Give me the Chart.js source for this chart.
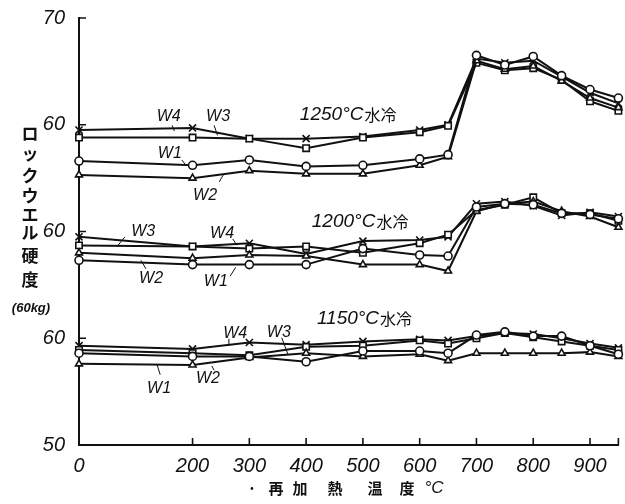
<!DOCTYPE html>
<html>
<head>
<meta charset="utf-8">
<script src="https://cdn.jsdelivr.net/npm/chart.js@4.4.1/dist/chart.umd.min.js"></script>
<style>
  body { margin: 0; background: #fff; }
  canvas { display: block; }
</style>
</head>
<body>
<canvas id="chart" width="625" height="504"></canvas>
<script>
"use strict";

// reheating temperature (°C)
const temps = [0, 200, 300, 400, 500, 600, 650, 700, 750, 800, 850, 900, 950];

// Rockwell hardness, 1250°C water quenched
const w1_1250 = [56.6, 56.2, 56.7, 56.1, 56.2, 56.8, 57.2, 66.5, 65.6, 66.4, 64.6, 63.3, 62.5];
const w2_1250 = [55.3, 55.0, 55.7, 55.4, 55.4, 56.2, 57.0, 66.0, 65.2, 65.5, 64.1, 62.5, 61.6];
const w3_1250 = [58.8, 58.8, 58.7, 57.8, 58.8, 59.3, 59.9, 65.8, 65.1, 65.3, 64.2, 62.2, 61.3];
const w4_1250 = [59.5, 59.7, 58.7, 58.7, 58.9, 59.5, 60.0, 66.2, 65.8, 66.0, 64.5, 63.0, 62.0];

// 1200°C water quenched
const w1_1200 = [57.3, 56.9, 56.9, 56.9, 58.4, 57.8, 57.7, 62.3, 62.6, 62.5, 61.7, 61.6, 61.2];
const w2_1200 = [58.0, 57.5, 57.8, 57.7, 56.9, 56.9, 56.3, 61.9, 62.6, 62.8, 61.9, 61.4, 60.4];
const w3_1200 = [58.7, 58.6, 58.4, 58.6, 58.0, 58.9, 59.7, 62.0, 62.5, 63.2, 61.7, 61.7, 61.0];
const w4_1200 = [59.5, 58.6, 58.9, 57.9, 59.1, 59.2, 59.5, 62.6, 62.8, 62.4, 61.5, 61.8, 61.4];

// 1150°C water quenched
const w1_1150 = [58.6, 58.3, 58.3, 57.8, 58.8, 58.8, 58.6, 60.3, 60.6, 60.2, 60.2, 59.3, 58.5];
const w2_1150 = [57.6, 57.5, 58.2, 58.6, 58.3, 58.5, 57.9, 58.6, 58.6, 58.6, 58.6, 58.7, 58.3];
const w3_1150 = [58.9, 58.6, 58.4, 59.2, 59.3, 59.8, 59.5, 60.0, 60.5, 60.1, 59.7, 59.3, 58.9];
const w4_1150 = [59.3, 59.0, 59.6, 59.4, 59.7, 59.9, 59.8, 60.2, 60.5, 60.4, 60.0, 59.5, 59.1];

const seriesNames = ["W1", "W2", "W3", "W4"];
const pointStyles = ["circle", "triangle", "rect", "crossRot"];

// each group is shifted up on the shared axis (group offset in axis units)
const groupNames = ["1250°C", "1200°C", "1150°C"];
const groupOffsets = [-30, -40, -50];
const groupSeries = [
  [w1_1250, w2_1250, w3_1250, w4_1250],
  [w1_1200, w2_1200, w3_1200, w4_1200],
  [w1_1150, w2_1150, w3_1150, w4_1150],
];

const xTicks = [0, 200, 300, 400, 500, 600, 700, 800, 900];
const yTickVals = [0, 10, 20, 30, 40];
const yTickLabels = ["50", "60", "60", "60", "70"];

// group captions [x temp, axis value]
const groupLabelPos = [[389, 30.9], [410, 20.9], [419, 11.8]];

// series labels: text, x, y, leader from, leader to
const seriesLabels = [
  ["W4", 158, 30.8, [164, 29.95], [168, 29.4]],
  ["W3", 245, 30.8, [238, 29.95], [244, 29.0]],
  ["W1", 160, 27.3, [181, 26.7], [187, 26.3]],
  ["W2", 222, 23.4, [247, 24.65], [254, 25.3]],
  ["W3", 113, 20.0, [81, 19.5], [67, 18.6]],
  ["W4", 252, 19.8, [271, 19.3], [278, 18.7]],
  ["W2", 127, 15.6, [118, 16.5], [109, 17.3]],
  ["W1", 241, 15.35, [266, 15.8], [276, 16.65]],
  ["W4", 275, 10.4, [264, 9.95], [264, 9.3]],
  ["W3", 352, 10.5, [357, 10.05], [368, 8.5]],
  ["W1", 141, 5.3, [143, 6.6], [137, 7.6]],
  ["W2", 227, 6.2, [238, 7.0], [234, 7.4]],
];

const ink = "#111";
const latin = "'Liberation Sans', 'DejaVu Sans', sans-serif";
const cjk = "'Noto Sans CJK JP', 'Noto Sans CJK SC', sans-serif";

const datasets = [];
groupSeries.forEach((group, g) => {
  group.forEach((vals, s) => {
    datasets.push({
      label: groupNames[g] + " " + seriesNames[s],
      data: temps.map((t, i) => ({ x: t, y: vals[i] + groupOffsets[g] })),
      borderColor: ink,
      borderWidth: 2,
      clip: false,
      pointStyle: pointStyles[s],
      pointRadius: s === 3 ? 5 : s === 2 ? 4.5 : 4,
      pointBackgroundColor: "#fff",
      pointBorderColor: ink,
      pointBorderWidth: 1.6,
      tension: 0,
    });
  });
});

const decor = {
  id: "decor",
  afterDraw(chart) {
    const { ctx, chartArea: a } = chart;
    const xs = chart.scales.x;
    const ys = chart.scales.y;
    ctx.save();
    ctx.strokeStyle = ink;
    ctx.fillStyle = ink;

    // inward tick marks
    ctx.lineWidth = 1.6;
    ctx.beginPath();
    xTicks.slice(1).concat([950]).forEach((t) => {
      const px = xs.getPixelForValue(t);
      ctx.moveTo(px, a.bottom);
      ctx.lineTo(px, a.bottom - 7);
    });
    yTickVals.slice(1).forEach((v) => {
      const py = ys.getPixelForValue(v);
      ctx.moveTo(a.left, py);
      ctx.lineTo(a.left + 7, py);
    });
    ctx.stroke();

    // group captions
    ctx.textBaseline = "middle";
    ctx.textAlign = "left";
    groupLabelPos.forEach((p, g) => {
      let px = xs.getPixelForValue(p[0]);
      const py = ys.getPixelForValue(p[1]);
      ctx.font = "italic 19px " + latin;
      const num = groupNames[g];
      ctx.fillText(num, px, py);
      px += ctx.measureText(num).width + 1;
      ctx.font = "16px " + cjk;
      ctx.fillText("水冷", px, py);
    });

    // series labels with leaders
    ctx.font = "italic 16px " + latin;
    ctx.textAlign = "center";
    ctx.lineWidth = 1;
    seriesLabels.forEach((l) => {
      ctx.fillText(l[0], xs.getPixelForValue(l[1]), ys.getPixelForValue(l[2]));
      ctx.beginPath();
      ctx.moveTo(xs.getPixelForValue(l[3][0]), ys.getPixelForValue(l[3][1]));
      ctx.lineTo(xs.getPixelForValue(l[4][0]), ys.getPixelForValue(l[4][1]));
      ctx.stroke();
    });

    // y axis title (vertical)
    ctx.font = "bold 17px " + cjk;
    const yChars = ["ロ", "ッ", "ク", "ウ", "エ", "ル", "硬", "度"];
    const yPos = [134, 154, 176, 196, 215, 233, 256, 280];
    yChars.forEach((c, i) => ctx.fillText(c, 30, yPos[i]));
    ctx.font = "italic bold 13px " + latin;
    ctx.fillText("(60kg)", 31, 308);

    // x axis title
    ctx.font = "bold 15px " + cjk;
    const xChars = ["·", "再", "加", "熱", "温", "度"];
    const xPos = [252, 276, 300, 335, 375, 407];
    xChars.forEach((c, i) => ctx.fillText(c, xPos[i], 488));
    ctx.font = "italic 17px " + latin;
    ctx.fillText("°C", 434, 488);
    ctx.restore();
  },
};

new Chart(document.getElementById("chart").getContext("2d"), {
  type: "line",
  data: { datasets },
  options: {
    responsive: false,
    animation: false,
    layout: { padding: { top: 15, right: 6, left: 0, bottom: 0 } },
    plugins: { legend: { display: false }, tooltip: { enabled: false } },
    scales: {
      x: {
        type: "linear",
        min: 0,
        max: 950,
        afterBuildTicks: (s) => { s.ticks = xTicks.map((v) => ({ value: v })); },
        afterFit: (s) => { s.height = 59; },
        grid: { display: false },
        border: { display: true, color: ink, width: 2 },
        ticks: {
          color: ink,
          padding: 1,
          maxRotation: 0,
          autoSkip: false,
          font: { family: latin, size: 20, style: "italic" },
          callback: (v) => String(v),
        },
      },
      y: {
        type: "linear",
        min: 0,
        max: 40,
        afterBuildTicks: (s) => { s.ticks = yTickVals.map((v) => ({ value: v })); },
        afterFit: (s) => { s.width = 79; },
        grid: { display: false },
        border: { display: true, color: ink, width: 2 },
        ticks: {
          color: ink,
          padding: 6,
          autoSkip: false,
          font: { family: latin, size: 20, style: "italic" },
          callback: (v, i) => yTickLabels[i],
        },
      },
    },
  },
  plugins: [decor],
});
</script>
</body>
</html>
